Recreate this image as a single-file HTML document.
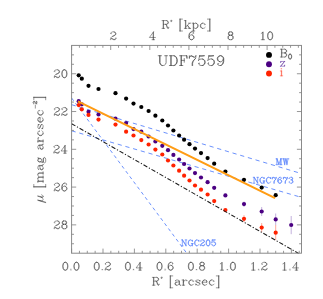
<!DOCTYPE html>
<html><head><meta charset="utf-8"><title>UDF7559</title>
<style>html,body{margin:0;padding:0;background:#fff;width:323px;height:299px;overflow:hidden;font-family:"Liberation Serif",serif}</style></head>
<body>
<svg width="323" height="299" viewBox="0 0 323 299" style="position:absolute;left:0;top:0" font-family="Liberation Serif, serif">
<defs><filter id="soft" x="0" y="0" width="323" height="299" filterUnits="userSpaceOnUse"><feGaussianBlur stdDeviation="0.42"/></filter></defs>
<rect width="323" height="299" fill="#fff"/>
<g filter="url(#soft)">
<rect width="323" height="299" fill="#fff"/>
<line x1="71.60" y1="98.00" x2="186.75" y2="253.20" stroke="#5a84fc" stroke-width="0.9" stroke-dasharray="3.4 3.1"/>
<line x1="71.60" y1="104.70" x2="301.50" y2="173.60" stroke="#5a84fc" stroke-width="0.9" stroke-dasharray="4.2 3.8"/>
<line x1="71.60" y1="130.80" x2="301.50" y2="197.40" stroke="#5a84fc" stroke-width="0.9" stroke-dasharray="4.2 3.8"/>
<line x1="261.70" y1="207.00" x2="261.70" y2="216.00" stroke="#c2b0dc" stroke-width="1"/>
<line x1="275.70" y1="213.50" x2="275.70" y2="225.20" stroke="#c2b0dc" stroke-width="1"/>
<line x1="291.20" y1="216.00" x2="291.20" y2="234.20" stroke="#c2b0dc" stroke-width="1"/>
<line x1="244.00" y1="201.50" x2="244.00" y2="206.70" stroke="#c2b0dc" stroke-width="1"/>
<line x1="244.00" y1="215.20" x2="244.00" y2="222.20" stroke="#ffab9c" stroke-width="1"/>
<line x1="261.70" y1="223.00" x2="261.70" y2="232.20" stroke="#ffab9c" stroke-width="1"/>
<line x1="275.70" y1="225.00" x2="275.70" y2="240.20" stroke="#ffab9c" stroke-width="1"/>
<circle cx="78.7" cy="75.3" r="2.1" fill="#000"/>
<circle cx="81.8" cy="78.7" r="2.1" fill="#000"/>
<circle cx="88.5" cy="85.8" r="2.1" fill="#000"/>
<circle cx="98.5" cy="89" r="2.1" fill="#000"/>
<circle cx="115.5" cy="93.2" r="2.1" fill="#000"/>
<circle cx="126.1" cy="98.6" r="2.1" fill="#000"/>
<circle cx="133.5" cy="103.6" r="2.1" fill="#000"/>
<circle cx="141.3" cy="107" r="2.1" fill="#000"/>
<circle cx="148.6" cy="111" r="2.1" fill="#000"/>
<circle cx="155.4" cy="115.7" r="2.1" fill="#000"/>
<circle cx="162.3" cy="120.5" r="2.1" fill="#000"/>
<circle cx="168" cy="125.5" r="2.1" fill="#000"/>
<circle cx="173.4" cy="130.5" r="2.1" fill="#000"/>
<circle cx="179.1" cy="135.5" r="2.1" fill="#000"/>
<circle cx="184.1" cy="139.7" r="2.1" fill="#000"/>
<circle cx="189.5" cy="144.2" r="2.1" fill="#000"/>
<circle cx="195" cy="148.6" r="2.1" fill="#000"/>
<circle cx="201" cy="153.1" r="2.1" fill="#000"/>
<circle cx="207.6" cy="158.1" r="2.1" fill="#000"/>
<circle cx="214.2" cy="163.7" r="2.1" fill="#000"/>
<circle cx="225.4" cy="171.5" r="2.1" fill="#000"/>
<circle cx="244.0" cy="179.8" r="2.1" fill="#000"/>
<circle cx="261.7" cy="187.6" r="2.1" fill="#000"/>
<circle cx="275.7" cy="195.2" r="2.1" fill="#000"/>
<circle cx="78.7" cy="101.2" r="2.1" fill="#4b0082"/>
<circle cx="81.8" cy="104.3" r="2.1" fill="#4b0082"/>
<circle cx="88.5" cy="111.8" r="2.1" fill="#4b0082"/>
<circle cx="98.5" cy="114.5" r="2.1" fill="#4b0082"/>
<circle cx="115.5" cy="118.7" r="2.1" fill="#4b0082"/>
<circle cx="126.1" cy="123.1" r="2.1" fill="#4b0082"/>
<circle cx="133.5" cy="129.1" r="2.1" fill="#4b0082"/>
<circle cx="141.3" cy="131.7" r="2.1" fill="#4b0082"/>
<circle cx="148.6" cy="136.5" r="2.1" fill="#4b0082"/>
<circle cx="155.4" cy="141.5" r="2.1" fill="#4b0082"/>
<circle cx="162.3" cy="145.8" r="2.1" fill="#4b0082"/>
<circle cx="168" cy="150.2" r="2.1" fill="#4b0082"/>
<circle cx="173.4" cy="154.9" r="2.1" fill="#4b0082"/>
<circle cx="179.1" cy="159.5" r="2.1" fill="#4b0082"/>
<circle cx="184.1" cy="164" r="2.1" fill="#4b0082"/>
<circle cx="189.5" cy="168.5" r="2.1" fill="#4b0082"/>
<circle cx="195" cy="173.1" r="2.1" fill="#4b0082"/>
<circle cx="201" cy="177.5" r="2.1" fill="#4b0082"/>
<circle cx="207.6" cy="182.2" r="2.1" fill="#4b0082"/>
<circle cx="214.2" cy="187.8" r="2.1" fill="#4b0082"/>
<circle cx="225.4" cy="195.4" r="2.1" fill="#4b0082"/>
<circle cx="244.0" cy="204.1" r="2.1" fill="#4b0082"/>
<circle cx="261.7" cy="211.5" r="2.1" fill="#4b0082"/>
<circle cx="275.7" cy="219.4" r="2.1" fill="#4b0082"/>
<circle cx="291.2" cy="225.0" r="2.1" fill="#4b0082"/>
<circle cx="78.7" cy="105.1" r="2.1" fill="#ff2200"/>
<circle cx="81.8" cy="109.3" r="2.1" fill="#ff2200"/>
<circle cx="88.5" cy="114.9" r="2.1" fill="#ff2200"/>
<circle cx="98.5" cy="119.6" r="2.1" fill="#ff2200"/>
<circle cx="115.5" cy="124.6" r="2.1" fill="#ff2200"/>
<circle cx="126.1" cy="131.7" r="2.1" fill="#ff2200"/>
<circle cx="133.5" cy="135.5" r="2.1" fill="#ff2200"/>
<circle cx="141.3" cy="140.1" r="2.1" fill="#ff2200"/>
<circle cx="148.6" cy="144.5" r="2.1" fill="#ff2200"/>
<circle cx="155.4" cy="149.6" r="2.1" fill="#ff2200"/>
<circle cx="162.3" cy="154.5" r="2.1" fill="#ff2200"/>
<circle cx="168" cy="160.5" r="2.1" fill="#ff2200"/>
<circle cx="173.4" cy="165.5" r="2.1" fill="#ff2200"/>
<circle cx="179.1" cy="170.7" r="2.1" fill="#ff2200"/>
<circle cx="184.1" cy="175.7" r="2.1" fill="#ff2200"/>
<circle cx="189.5" cy="180.5" r="2.1" fill="#ff2200"/>
<circle cx="195" cy="185.5" r="2.1" fill="#ff2200"/>
<circle cx="201" cy="189.7" r="2.1" fill="#ff2200"/>
<circle cx="207.6" cy="194.5" r="2.1" fill="#ff2200"/>
<circle cx="214.2" cy="201.1" r="2.1" fill="#ff2200"/>
<circle cx="225.4" cy="210.1" r="2.1" fill="#ff2200"/>
<circle cx="244.0" cy="218.8" r="2.1" fill="#ff2200"/>
<circle cx="261.7" cy="227.6" r="2.1" fill="#ff2200"/>
<circle cx="275.7" cy="232.7" r="2.1" fill="#ff2200"/>
<line x1="71.60" y1="123.70" x2="298.60" y2="253.40" stroke="#1a1a1a" stroke-width="1.05" stroke-dasharray="4.4 1.8 1.2 1.8"/>
<line x1="78.00" y1="101.40" x2="275.10" y2="198.10" stroke="#ff9c12" stroke-width="2.1"/>
<rect x="71.6" y="45.4" width="229.90" height="207.80" fill="none" stroke="#858585" stroke-width="0.95"/>
<path d="M71.60 253.2v-4.6 M79.45 253.2v-2.4 M87.30 253.2v-2.4 M95.15 253.2v-2.4 M103.00 253.2v-4.6 M110.85 253.2v-2.4 M118.70 253.2v-2.4 M126.55 253.2v-2.4 M134.40 253.2v-4.6 M142.25 253.2v-2.4 M150.10 253.2v-2.4 M157.95 253.2v-2.4 M165.80 253.2v-4.6 M173.65 253.2v-2.4 M181.50 253.2v-2.4 M189.35 253.2v-2.4 M197.20 253.2v-4.6 M205.05 253.2v-2.4 M212.90 253.2v-2.4 M220.75 253.2v-2.4 M228.60 253.2v-4.6 M236.45 253.2v-2.4 M244.30 253.2v-2.4 M252.15 253.2v-2.4 M260.00 253.2v-4.6 M267.85 253.2v-2.4 M275.70 253.2v-2.4 M283.55 253.2v-2.4 M291.40 253.2v-4.6 M299.25 253.2v-2.4 M71.60 45.4v4.6 M79.42 45.4v2.4 M87.24 45.4v2.4 M95.06 45.4v2.4 M102.88 45.4v2.4 M110.70 45.4v4.6 M118.52 45.4v2.4 M126.34 45.4v2.4 M134.16 45.4v2.4 M141.98 45.4v2.4 M149.80 45.4v4.6 M157.62 45.4v2.4 M165.44 45.4v2.4 M173.26 45.4v2.4 M181.08 45.4v2.4 M188.90 45.4v4.6 M196.72 45.4v2.4 M204.54 45.4v2.4 M212.36 45.4v2.4 M220.18 45.4v2.4 M228.00 45.4v4.6 M235.82 45.4v2.4 M243.64 45.4v2.4 M251.46 45.4v2.4 M259.28 45.4v2.4 M267.10 45.4v4.6 M274.92 45.4v2.4 M282.74 45.4v2.4 M290.56 45.4v2.4 M298.38 45.4v2.4 M71.6 54.85h2.4 M301.5 54.85h-2.4 M71.6 64.29h2.4 M301.5 64.29h-2.4 M71.6 73.74h4.6 M301.5 73.74h-4.6 M71.6 83.18h2.4 M301.5 83.18h-2.4 M71.6 92.63h2.4 M301.5 92.63h-2.4 M71.6 102.07h2.4 M301.5 102.07h-2.4 M71.6 111.52h4.6 M301.5 111.52h-4.6 M71.6 120.96h2.4 M301.5 120.96h-2.4 M71.6 130.41h2.4 M301.5 130.41h-2.4 M71.6 139.85h2.4 M301.5 139.85h-2.4 M71.6 149.30h4.6 M301.5 149.30h-4.6 M71.6 158.75h2.4 M301.5 158.75h-2.4 M71.6 168.19h2.4 M301.5 168.19h-2.4 M71.6 177.64h2.4 M301.5 177.64h-2.4 M71.6 187.08h4.6 M301.5 187.08h-4.6 M71.6 196.53h2.4 M301.5 196.53h-2.4 M71.6 205.97h2.4 M301.5 205.97h-2.4 M71.6 215.42h2.4 M301.5 215.42h-2.4 M71.6 224.86h4.6 M301.5 224.86h-4.6 M71.6 234.31h2.4 M301.5 234.31h-2.4 M71.6 243.75h2.4 M301.5 243.75h-2.4" stroke="#858585" stroke-width="0.85" fill="none"/>
<path d="M64.95 262.34 L63.83 262.71 L63.09 263.83 L62.72 265.69 L62.72 266.80 L63.09 268.66 L63.83 269.78 L64.95 270.15 L65.69 270.15 L66.81 269.78 L67.55 268.66 L67.92 266.80 L67.92 265.69 L67.55 263.83 L66.81 262.71 L65.69 262.34 L64.95 262.34 M64.95 262.34 L64.20 262.71 L63.83 263.08 L63.46 263.83 L63.09 265.69 L63.09 266.80 L63.46 268.66 L63.83 269.41 L64.20 269.78 L64.95 270.15 M65.69 270.15 L66.44 269.78 L66.81 269.41 L67.18 268.66 L67.55 266.80 L67.55 265.69 L67.18 263.83 L66.81 263.08 L66.44 262.71 L65.69 262.34 M70.90 269.41 L70.53 269.78 L70.90 270.15 L71.27 269.78 L70.90 269.41 M76.11 262.34 L74.99 262.71 L74.25 263.83 L73.88 265.69 L73.88 266.80 L74.25 268.66 L74.99 269.78 L76.11 270.15 L76.85 270.15 L77.97 269.78 L78.71 268.66 L79.08 266.80 L79.08 265.69 L78.71 263.83 L77.97 262.71 L76.85 262.34 L76.11 262.34 M76.11 262.34 L75.36 262.71 L74.99 263.08 L74.62 263.83 L74.25 265.69 L74.25 266.80 L74.62 268.66 L74.99 269.41 L75.36 269.78 L76.11 270.15 M76.85 270.15 L77.60 269.78 L77.97 269.41 L78.34 268.66 L78.71 266.80 L78.71 265.69 L78.34 263.83 L77.97 263.08 L77.60 262.71 L76.85 262.34" fill="none" stroke="#3a3a3a" stroke-width="0.52" stroke-linecap="round" stroke-linejoin="round"/>
<path d="M96.35 262.34 L95.23 262.71 L94.49 263.83 L94.12 265.69 L94.12 266.80 L94.49 268.66 L95.23 269.78 L96.35 270.15 L97.09 270.15 L98.21 269.78 L98.95 268.66 L99.32 266.80 L99.32 265.69 L98.95 263.83 L98.21 262.71 L97.09 262.34 L96.35 262.34 M96.35 262.34 L95.60 262.71 L95.23 263.08 L94.86 263.83 L94.49 265.69 L94.49 266.80 L94.86 268.66 L95.23 269.41 L95.60 269.78 L96.35 270.15 M97.09 270.15 L97.84 269.78 L98.21 269.41 L98.58 268.66 L98.95 266.80 L98.95 265.69 L98.58 263.83 L98.21 263.08 L97.84 262.71 L97.09 262.34 M102.30 269.41 L101.93 269.78 L102.30 270.15 L102.67 269.78 L102.30 269.41 M105.65 263.83 L106.02 264.20 L105.65 264.57 L105.28 264.20 L105.28 263.83 L105.65 263.08 L106.02 262.71 L107.14 262.34 L108.62 262.34 L109.74 262.71 L110.11 263.08 L110.48 263.83 L110.48 264.57 L110.11 265.31 L109.00 266.06 L107.14 266.80 L106.39 267.17 L105.65 267.92 L105.28 269.03 L105.28 270.15 M108.62 262.34 L109.37 262.71 L109.74 263.08 L110.11 263.83 L110.11 264.57 L109.74 265.31 L108.62 266.06 L107.14 266.80 M105.28 269.41 L105.65 269.03 L106.39 269.03 L108.25 269.78 L109.37 269.78 L110.11 269.41 L110.48 269.03 M106.39 269.03 L108.25 270.15 L109.74 270.15 L110.11 269.78 L110.48 269.03 L110.48 268.29" fill="none" stroke="#3a3a3a" stroke-width="0.52" stroke-linecap="round" stroke-linejoin="round"/>
<path d="M127.56 262.34 L126.45 262.71 L125.70 263.83 L125.33 265.69 L125.33 266.80 L125.70 268.66 L126.45 269.78 L127.56 270.15 L128.31 270.15 L129.42 269.78 L130.17 268.66 L130.54 266.80 L130.54 265.69 L130.17 263.83 L129.42 262.71 L128.31 262.34 L127.56 262.34 M127.56 262.34 L126.82 262.71 L126.45 263.08 L126.07 263.83 L125.70 265.69 L125.70 266.80 L126.07 268.66 L126.45 269.41 L126.82 269.78 L127.56 270.15 M128.31 270.15 L129.05 269.78 L129.42 269.41 L129.79 268.66 L130.17 266.80 L130.17 265.69 L129.79 263.83 L129.42 263.08 L129.05 262.71 L128.31 262.34 M133.51 269.41 L133.14 269.78 L133.51 270.15 L133.89 269.78 L133.51 269.41 M139.84 263.08 L139.84 270.15 M140.21 262.34 L140.21 270.15 M140.21 262.34 L136.12 267.92 L142.07 267.92 M138.72 270.15 L141.33 270.15" fill="none" stroke="#3a3a3a" stroke-width="0.52" stroke-linecap="round" stroke-linejoin="round"/>
<path d="M159.15 262.34 L158.03 262.71 L157.29 263.83 L156.92 265.69 L156.92 266.80 L157.29 268.66 L158.03 269.78 L159.15 270.15 L159.89 270.15 L161.01 269.78 L161.75 268.66 L162.12 266.80 L162.12 265.69 L161.75 263.83 L161.01 262.71 L159.89 262.34 L159.15 262.34 M159.15 262.34 L158.40 262.71 L158.03 263.08 L157.66 263.83 L157.29 265.69 L157.29 266.80 L157.66 268.66 L158.03 269.41 L158.40 269.78 L159.15 270.15 M159.89 270.15 L160.64 269.78 L161.01 269.41 L161.38 268.66 L161.75 266.80 L161.75 265.69 L161.38 263.83 L161.01 263.08 L160.64 262.71 L159.89 262.34 M165.10 269.41 L164.73 269.78 L165.10 270.15 L165.47 269.78 L165.10 269.41 M172.54 263.45 L172.17 263.83 L172.54 264.20 L172.91 263.83 L172.91 263.45 L172.54 262.71 L171.80 262.34 L170.68 262.34 L169.56 262.71 L168.82 263.45 L168.45 264.20 L168.08 265.69 L168.08 267.92 L168.45 269.03 L169.19 269.78 L170.31 270.15 L171.05 270.15 L172.17 269.78 L172.91 269.03 L173.28 267.92 L173.28 267.55 L172.91 266.43 L172.17 265.69 L171.05 265.31 L170.68 265.31 L169.56 265.69 L168.82 266.43 L168.45 267.55 M170.68 262.34 L169.94 262.71 L169.19 263.45 L168.82 264.20 L168.45 265.69 L168.45 267.92 L168.82 269.03 L169.56 269.78 L170.31 270.15 M171.05 270.15 L171.80 269.78 L172.54 269.03 L172.91 267.92 L172.91 267.55 L172.54 266.43 L171.80 265.69 L171.05 265.31" fill="none" stroke="#3a3a3a" stroke-width="0.52" stroke-linecap="round" stroke-linejoin="round"/>
<path d="M190.55 262.34 L189.43 262.71 L188.69 263.83 L188.32 265.69 L188.32 266.80 L188.69 268.66 L189.43 269.78 L190.55 270.15 L191.29 270.15 L192.41 269.78 L193.15 268.66 L193.52 266.80 L193.52 265.69 L193.15 263.83 L192.41 262.71 L191.29 262.34 L190.55 262.34 M190.55 262.34 L189.80 262.71 L189.43 263.08 L189.06 263.83 L188.69 265.69 L188.69 266.80 L189.06 268.66 L189.43 269.41 L189.80 269.78 L190.55 270.15 M191.29 270.15 L192.04 269.78 L192.41 269.41 L192.78 268.66 L193.15 266.80 L193.15 265.69 L192.78 263.83 L192.41 263.08 L192.04 262.71 L191.29 262.34 M196.50 269.41 L196.13 269.78 L196.50 270.15 L196.87 269.78 L196.50 269.41 M201.34 262.34 L200.22 262.71 L199.85 263.45 L199.85 264.57 L200.22 265.31 L201.34 265.69 L202.82 265.69 L203.94 265.31 L204.31 264.57 L204.31 263.45 L203.94 262.71 L202.82 262.34 L201.34 262.34 M201.34 262.34 L200.59 262.71 L200.22 263.45 L200.22 264.57 L200.59 265.31 L201.34 265.69 M202.82 265.69 L203.57 265.31 L203.94 264.57 L203.94 263.45 L203.57 262.71 L202.82 262.34 M201.34 265.69 L200.22 266.06 L199.85 266.43 L199.48 267.17 L199.48 268.66 L199.85 269.41 L200.22 269.78 L201.34 270.15 L202.82 270.15 L203.94 269.78 L204.31 269.41 L204.68 268.66 L204.68 267.17 L204.31 266.43 L203.94 266.06 L202.82 265.69 M201.34 265.69 L200.59 266.06 L200.22 266.43 L199.85 267.17 L199.85 268.66 L200.22 269.41 L200.59 269.78 L201.34 270.15 M202.82 270.15 L203.57 269.78 L203.94 269.41 L204.31 268.66 L204.31 267.17 L203.94 266.43 L203.57 266.06 L202.82 265.69" fill="none" stroke="#3a3a3a" stroke-width="0.52" stroke-linecap="round" stroke-linejoin="round"/>
<path d="M220.27 263.83 L221.02 263.45 L222.13 262.34 L222.13 270.15 M221.76 262.71 L221.76 270.15 M220.27 270.15 L223.62 270.15 M227.34 269.41 L226.97 269.78 L227.34 270.15 L227.71 269.78 L227.34 269.41 M232.55 262.34 L231.43 262.71 L230.69 263.83 L230.32 265.69 L230.32 266.80 L230.69 268.66 L231.43 269.78 L232.55 270.15 L233.29 270.15 L234.41 269.78 L235.15 268.66 L235.53 266.80 L235.53 265.69 L235.15 263.83 L234.41 262.71 L233.29 262.34 L232.55 262.34 M232.55 262.34 L231.81 262.71 L231.43 263.08 L231.06 263.83 L230.69 265.69 L230.69 266.80 L231.06 268.66 L231.43 269.41 L231.81 269.78 L232.55 270.15 M233.29 270.15 L234.04 269.78 L234.41 269.41 L234.78 268.66 L235.15 266.80 L235.15 265.69 L234.78 263.83 L234.41 263.08 L234.04 262.71 L233.29 262.34" fill="none" stroke="#3a3a3a" stroke-width="0.52" stroke-linecap="round" stroke-linejoin="round"/>
<path d="M251.67 263.83 L252.42 263.45 L253.53 262.34 L253.53 270.15 M253.16 262.71 L253.16 270.15 M251.67 270.15 L255.02 270.15 M258.74 269.41 L258.37 269.78 L258.74 270.15 L259.11 269.78 L258.74 269.41 M262.09 263.83 L262.46 264.20 L262.09 264.57 L261.72 264.20 L261.72 263.83 L262.09 263.08 L262.46 262.71 L263.58 262.34 L265.07 262.34 L266.18 262.71 L266.55 263.08 L266.93 263.83 L266.93 264.57 L266.55 265.31 L265.44 266.06 L263.58 266.80 L262.83 267.17 L262.09 267.92 L261.72 269.03 L261.72 270.15 M265.07 262.34 L265.81 262.71 L266.18 263.08 L266.55 263.83 L266.55 264.57 L266.18 265.31 L265.07 266.06 L263.58 266.80 M261.72 269.41 L262.09 269.03 L262.83 269.03 L264.69 269.78 L265.81 269.78 L266.55 269.41 L266.93 269.03 M262.83 269.03 L264.69 270.15 L266.18 270.15 L266.55 269.78 L266.93 269.03 L266.93 268.29" fill="none" stroke="#3a3a3a" stroke-width="0.52" stroke-linecap="round" stroke-linejoin="round"/>
<path d="M282.89 263.83 L283.63 263.45 L284.75 262.34 L284.75 270.15 M284.38 262.71 L284.38 270.15 M282.89 270.15 L286.24 270.15 M289.96 269.41 L289.58 269.78 L289.96 270.15 L290.33 269.78 L289.96 269.41 M296.28 263.08 L296.28 270.15 M296.65 262.34 L296.65 270.15 M296.65 262.34 L292.56 267.92 L298.51 267.92 M295.16 270.15 L297.77 270.15" fill="none" stroke="#3a3a3a" stroke-width="0.52" stroke-linecap="round" stroke-linejoin="round"/>
<path d="M111.07 33.38 L111.44 33.75 L111.07 34.12 L110.70 33.75 L110.70 33.38 L111.07 32.63 L111.44 32.26 L112.56 31.89 L114.04 31.89 L115.16 32.26 L115.53 32.63 L115.90 33.38 L115.90 34.12 L115.53 34.86 L114.42 35.61 L112.56 36.35 L111.81 36.72 L111.07 37.47 L110.70 38.58 L110.70 39.70 M114.04 31.89 L114.79 32.26 L115.16 32.63 L115.53 33.38 L115.53 34.12 L115.16 34.86 L114.04 35.61 L112.56 36.35 M110.70 38.96 L111.07 38.58 L111.81 38.58 L113.67 39.33 L114.79 39.33 L115.53 38.96 L115.90 38.58 M111.81 38.58 L113.67 39.70 L115.16 39.70 L115.53 39.33 L115.90 38.58 L115.90 37.84" fill="none" stroke="#3a3a3a" stroke-width="0.52" stroke-linecap="round" stroke-linejoin="round"/>
<path d="M153.14 32.63 L153.14 39.70 M153.52 31.89 L153.52 39.70 M153.52 31.89 L149.42 37.47 L155.38 37.47 M152.03 39.70 L154.63 39.70" fill="none" stroke="#3a3a3a" stroke-width="0.52" stroke-linecap="round" stroke-linejoin="round"/>
<path d="M193.36 33.00 L192.99 33.38 L193.36 33.75 L193.73 33.38 L193.73 33.00 L193.36 32.26 L192.62 31.89 L191.50 31.89 L190.38 32.26 L189.64 33.00 L189.27 33.75 L188.90 35.24 L188.90 37.47 L189.27 38.58 L190.01 39.33 L191.13 39.70 L191.87 39.70 L192.99 39.33 L193.73 38.58 L194.10 37.47 L194.10 37.10 L193.73 35.98 L192.99 35.24 L191.87 34.86 L191.50 34.86 L190.38 35.24 L189.64 35.98 L189.27 37.10 M191.50 31.89 L190.76 32.26 L190.01 33.00 L189.64 33.75 L189.27 35.24 L189.27 37.47 L189.64 38.58 L190.38 39.33 L191.13 39.70 M191.87 39.70 L192.62 39.33 L193.36 38.58 L193.73 37.47 L193.73 37.10 L193.36 35.98 L192.62 35.24 L191.87 34.86" fill="none" stroke="#3a3a3a" stroke-width="0.52" stroke-linecap="round" stroke-linejoin="round"/>
<path d="M229.86 31.89 L228.74 32.26 L228.37 33.00 L228.37 34.12 L228.74 34.86 L229.86 35.24 L231.34 35.24 L232.46 34.86 L232.83 34.12 L232.83 33.00 L232.46 32.26 L231.34 31.89 L229.86 31.89 M229.86 31.89 L229.11 32.26 L228.74 33.00 L228.74 34.12 L229.11 34.86 L229.86 35.24 M231.34 35.24 L232.09 34.86 L232.46 34.12 L232.46 33.00 L232.09 32.26 L231.34 31.89 M229.86 35.24 L228.74 35.61 L228.37 35.98 L228.00 36.72 L228.00 38.21 L228.37 38.96 L228.74 39.33 L229.86 39.70 L231.34 39.70 L232.46 39.33 L232.83 38.96 L233.20 38.21 L233.20 36.72 L232.83 35.98 L232.46 35.61 L231.34 35.24 M229.86 35.24 L229.11 35.61 L228.74 35.98 L228.37 36.72 L228.37 38.21 L228.74 38.96 L229.11 39.33 L229.86 39.70 M231.34 39.70 L232.09 39.33 L232.46 38.96 L232.83 38.21 L232.83 36.72 L232.46 35.98 L232.09 35.61 L231.34 35.24" fill="none" stroke="#3a3a3a" stroke-width="0.52" stroke-linecap="round" stroke-linejoin="round"/>
<path d="M261.23 33.38 L261.98 33.00 L263.09 31.89 L263.09 39.70 M262.72 32.26 L262.72 39.70 M261.23 39.70 L264.58 39.70 M269.79 31.89 L268.67 32.26 L267.93 33.38 L267.56 35.24 L267.56 36.35 L267.93 38.21 L268.67 39.33 L269.79 39.70 L270.53 39.70 L271.65 39.33 L272.39 38.21 L272.77 36.35 L272.77 35.24 L272.39 33.38 L271.65 32.26 L270.53 31.89 L269.79 31.89 M269.79 31.89 L269.05 32.26 L268.67 32.63 L268.30 33.38 L267.93 35.24 L267.93 36.35 L268.30 38.21 L268.67 38.96 L269.05 39.33 L269.79 39.70 M270.53 39.70 L271.28 39.33 L271.65 38.96 L272.02 38.21 L272.39 36.35 L272.39 35.24 L272.02 33.38 L271.65 32.63 L271.28 32.26 L270.53 31.89" fill="none" stroke="#3a3a3a" stroke-width="0.52" stroke-linecap="round" stroke-linejoin="round"/>
<path d="M54.72 71.31 L55.10 71.68 L54.72 72.06 L54.35 71.68 L54.35 71.31 L54.72 70.57 L55.10 70.20 L56.21 69.82 L57.70 69.82 L58.82 70.20 L59.19 70.57 L59.56 71.31 L59.56 72.06 L59.19 72.80 L58.07 73.54 L56.21 74.29 L55.47 74.66 L54.72 75.40 L54.35 76.52 L54.35 77.64 M57.70 69.82 L58.44 70.20 L58.82 70.57 L59.19 71.31 L59.19 72.06 L58.82 72.80 L57.70 73.54 L56.21 74.29 M54.35 76.89 L54.72 76.52 L55.47 76.52 L57.33 77.26 L58.44 77.26 L59.19 76.89 L59.56 76.52 M55.47 76.52 L57.33 77.64 L58.82 77.64 L59.19 77.26 L59.56 76.52 L59.56 75.78 M64.02 69.82 L62.91 70.20 L62.16 71.31 L61.79 73.17 L61.79 74.29 L62.16 76.15 L62.91 77.26 L64.02 77.64 L64.77 77.64 L65.88 77.26 L66.63 76.15 L67.00 74.29 L67.00 73.17 L66.63 71.31 L65.88 70.20 L64.77 69.82 L64.02 69.82 M64.02 69.82 L63.28 70.20 L62.91 70.57 L62.54 71.31 L62.16 73.17 L62.16 74.29 L62.54 76.15 L62.91 76.89 L63.28 77.26 L64.02 77.64 M64.77 77.64 L65.51 77.26 L65.88 76.89 L66.26 76.15 L66.63 74.29 L66.63 73.17 L66.26 71.31 L65.88 70.57 L65.51 70.20 L64.77 69.82" fill="none" stroke="#3a3a3a" stroke-width="0.52" stroke-linecap="round" stroke-linejoin="round"/>
<path d="M54.72 109.09 L55.10 109.47 L54.72 109.84 L54.35 109.47 L54.35 109.09 L54.72 108.35 L55.10 107.98 L56.21 107.61 L57.70 107.61 L58.82 107.98 L59.19 108.35 L59.56 109.09 L59.56 109.84 L59.19 110.58 L58.07 111.33 L56.21 112.07 L55.47 112.44 L54.72 113.19 L54.35 114.30 L54.35 115.42 M57.70 107.61 L58.44 107.98 L58.82 108.35 L59.19 109.09 L59.19 109.84 L58.82 110.58 L57.70 111.33 L56.21 112.07 M54.35 114.67 L54.72 114.30 L55.47 114.30 L57.33 115.05 L58.44 115.05 L59.19 114.67 L59.56 114.30 M55.47 114.30 L57.33 115.42 L58.82 115.42 L59.19 115.05 L59.56 114.30 L59.56 113.56 M62.16 109.09 L62.54 109.47 L62.16 109.84 L61.79 109.47 L61.79 109.09 L62.16 108.35 L62.54 107.98 L63.65 107.61 L65.14 107.61 L66.26 107.98 L66.63 108.35 L67.00 109.09 L67.00 109.84 L66.63 110.58 L65.51 111.33 L63.65 112.07 L62.91 112.44 L62.16 113.19 L61.79 114.30 L61.79 115.42 M65.14 107.61 L65.88 107.98 L66.26 108.35 L66.63 109.09 L66.63 109.84 L66.26 110.58 L65.14 111.33 L63.65 112.07 M61.79 114.67 L62.16 114.30 L62.91 114.30 L64.77 115.05 L65.88 115.05 L66.63 114.67 L67.00 114.30 M62.91 114.30 L64.77 115.42 L66.26 115.42 L66.63 115.05 L67.00 114.30 L67.00 113.56" fill="none" stroke="#3a3a3a" stroke-width="0.52" stroke-linecap="round" stroke-linejoin="round"/>
<path d="M54.35 146.88 L54.72 147.25 L54.35 147.62 L53.98 147.25 L53.98 146.88 L54.35 146.13 L54.72 145.76 L55.84 145.39 L57.33 145.39 L58.44 145.76 L58.82 146.13 L59.19 146.88 L59.19 147.62 L58.82 148.36 L57.70 149.11 L55.84 149.85 L55.10 150.22 L54.35 150.97 L53.98 152.08 L53.98 153.20 M57.33 145.39 L58.07 145.76 L58.44 146.13 L58.82 146.88 L58.82 147.62 L58.44 148.36 L57.33 149.11 L55.84 149.85 M53.98 152.46 L54.35 152.08 L55.10 152.08 L56.96 152.83 L58.07 152.83 L58.82 152.46 L59.19 152.08 M55.10 152.08 L56.96 153.20 L58.44 153.20 L58.82 152.83 L59.19 152.08 L59.19 151.34 M64.77 146.13 L64.77 153.20 M65.14 145.39 L65.14 153.20 M65.14 145.39 L61.05 150.97 L67.00 150.97 M63.65 153.20 L66.26 153.20" fill="none" stroke="#3a3a3a" stroke-width="0.52" stroke-linecap="round" stroke-linejoin="round"/>
<path d="M54.72 184.66 L55.10 185.03 L54.72 185.40 L54.35 185.03 L54.35 184.66 L54.72 183.91 L55.10 183.54 L56.21 183.17 L57.70 183.17 L58.82 183.54 L59.19 183.91 L59.56 184.66 L59.56 185.40 L59.19 186.15 L58.07 186.89 L56.21 187.63 L55.47 188.01 L54.72 188.75 L54.35 189.87 L54.35 190.98 M57.70 183.17 L58.44 183.54 L58.82 183.91 L59.19 184.66 L59.19 185.40 L58.82 186.15 L57.70 186.89 L56.21 187.63 M54.35 190.24 L54.72 189.87 L55.47 189.87 L57.33 190.61 L58.44 190.61 L59.19 190.24 L59.56 189.87 M55.47 189.87 L57.33 190.98 L58.82 190.98 L59.19 190.61 L59.56 189.87 L59.56 189.12 M66.26 184.29 L65.88 184.66 L66.26 185.03 L66.63 184.66 L66.63 184.29 L66.26 183.54 L65.51 183.17 L64.40 183.17 L63.28 183.54 L62.54 184.29 L62.16 185.03 L61.79 186.52 L61.79 188.75 L62.16 189.87 L62.91 190.61 L64.02 190.98 L64.77 190.98 L65.88 190.61 L66.63 189.87 L67.00 188.75 L67.00 188.38 L66.63 187.26 L65.88 186.52 L64.77 186.15 L64.40 186.15 L63.28 186.52 L62.54 187.26 L62.16 188.38 M64.40 183.17 L63.65 183.54 L62.91 184.29 L62.54 185.03 L62.16 186.52 L62.16 188.75 L62.54 189.87 L63.28 190.61 L64.02 190.98 M64.77 190.98 L65.51 190.61 L66.26 189.87 L66.63 188.75 L66.63 188.38 L66.26 187.26 L65.51 186.52 L64.77 186.15" fill="none" stroke="#3a3a3a" stroke-width="0.52" stroke-linecap="round" stroke-linejoin="round"/>
<path d="M54.72 222.44 L55.10 222.81 L54.72 223.18 L54.35 222.81 L54.35 222.44 L54.72 221.70 L55.10 221.32 L56.21 220.95 L57.70 220.95 L58.82 221.32 L59.19 221.70 L59.56 222.44 L59.56 223.18 L59.19 223.93 L58.07 224.67 L56.21 225.42 L55.47 225.79 L54.72 226.53 L54.35 227.65 L54.35 228.76 M57.70 220.95 L58.44 221.32 L58.82 221.70 L59.19 222.44 L59.19 223.18 L58.82 223.93 L57.70 224.67 L56.21 225.42 M54.35 228.02 L54.72 227.65 L55.47 227.65 L57.33 228.39 L58.44 228.39 L59.19 228.02 L59.56 227.65 M55.47 227.65 L57.33 228.76 L58.82 228.76 L59.19 228.39 L59.56 227.65 L59.56 226.90 M63.65 220.95 L62.54 221.32 L62.16 222.07 L62.16 223.18 L62.54 223.93 L63.65 224.30 L65.14 224.30 L66.26 223.93 L66.63 223.18 L66.63 222.07 L66.26 221.32 L65.14 220.95 L63.65 220.95 M63.65 220.95 L62.91 221.32 L62.54 222.07 L62.54 223.18 L62.91 223.93 L63.65 224.30 M65.14 224.30 L65.88 223.93 L66.26 223.18 L66.26 222.07 L65.88 221.32 L65.14 220.95 M63.65 224.30 L62.54 224.67 L62.16 225.04 L61.79 225.79 L61.79 227.28 L62.16 228.02 L62.54 228.39 L63.65 228.76 L65.14 228.76 L66.26 228.39 L66.63 228.02 L67.00 227.28 L67.00 225.79 L66.63 225.04 L66.26 224.67 L65.14 224.30 M63.65 224.30 L62.91 224.67 L62.54 225.04 L62.16 225.79 L62.16 227.28 L62.54 228.02 L62.91 228.39 L63.65 228.76 M65.14 228.76 L65.88 228.39 L66.26 228.02 L66.63 227.28 L66.63 225.79 L66.26 225.04 L65.88 224.67 L65.14 224.30" fill="none" stroke="#3a3a3a" stroke-width="0.52" stroke-linecap="round" stroke-linejoin="round"/>
<path d="M153.46 277.39 L153.46 285.20 M153.83 277.39 L153.83 285.20 M152.34 277.39 L156.81 277.39 L157.92 277.76 L158.30 278.13 L158.67 278.88 L158.67 279.62 L158.30 280.36 L157.92 280.74 L156.81 281.11 L153.83 281.11 M156.81 277.39 L157.55 277.76 L157.92 278.13 L158.30 278.88 L158.30 279.62 L157.92 280.36 L157.55 280.74 L156.81 281.11 M152.34 285.20 L154.95 285.20 M155.69 281.11 L156.44 281.48 L156.81 281.85 L157.92 284.46 L158.30 284.83 L158.67 284.83 L159.04 284.46 M156.44 281.48 L156.81 282.22 L157.55 284.83 L157.92 285.20 L158.67 285.20 L159.04 284.46 L159.04 284.08 M161.45 277.15 L162.30 277.15 L161.95 278.40 L161.55 278.40 Z M170.17 275.90 L170.17 287.80 M170.54 275.90 L170.54 287.80 M170.17 275.90 L172.77 275.90 M170.17 287.80 L172.77 287.80 M175.75 280.74 L175.75 281.11 L175.38 281.11 L175.38 280.74 L175.75 280.36 L176.49 279.99 L177.98 279.99 L178.73 280.36 L179.10 280.74 L179.47 281.48 L179.47 284.08 L179.84 284.83 L180.21 285.20 M179.10 280.74 L179.10 284.08 L179.47 284.83 L180.21 285.20 L180.59 285.20 M179.10 281.48 L178.73 281.85 L176.49 282.22 L175.38 282.60 L175.01 283.34 L175.01 284.08 L175.38 284.83 L176.49 285.20 L177.61 285.20 L178.35 284.83 L179.10 284.08 M176.49 282.22 L175.75 282.60 L175.38 283.34 L175.38 284.08 L175.75 284.83 L176.49 285.20 M183.19 279.99 L183.19 285.20 M183.56 279.99 L183.56 285.20 M183.56 282.22 L183.93 281.11 L184.68 280.36 L185.42 279.99 L186.54 279.99 L186.91 280.36 L186.91 280.74 L186.54 281.11 L186.17 280.74 L186.54 280.36 M182.07 279.99 L183.56 279.99 M182.07 285.20 L184.68 285.20 M193.23 281.11 L192.86 281.48 L193.23 281.85 L193.61 281.48 L193.61 281.11 L192.86 280.36 L192.12 279.99 L191.00 279.99 L189.89 280.36 L189.14 281.11 L188.77 282.22 L188.77 282.97 L189.14 284.08 L189.89 284.83 L191.00 285.20 L191.75 285.20 L192.86 284.83 L193.61 284.08 M191.00 279.99 L190.26 280.36 L189.51 281.11 L189.14 282.22 L189.14 282.97 L189.51 284.08 L190.26 284.83 L191.00 285.20 M199.56 280.74 L199.93 279.99 L199.93 281.48 L199.56 280.74 L199.19 280.36 L198.44 279.99 L196.95 279.99 L196.21 280.36 L195.84 280.74 L195.84 281.48 L196.21 281.85 L196.95 282.22 L198.81 282.97 L199.56 283.34 L199.93 283.71 M195.84 281.11 L196.21 281.48 L196.95 281.85 L198.81 282.60 L199.56 282.97 L199.93 283.34 L199.93 284.46 L199.56 284.83 L198.81 285.20 L197.33 285.20 L196.58 284.83 L196.21 284.46 L195.84 283.71 L195.84 285.20 L196.21 284.46 M202.53 282.22 L207.00 282.22 L207.00 281.48 L206.63 280.74 L206.25 280.36 L205.51 279.99 L204.39 279.99 L203.28 280.36 L202.53 281.11 L202.16 282.22 L202.16 282.97 L202.53 284.08 L203.28 284.83 L204.39 285.20 L205.14 285.20 L206.25 284.83 L207.00 284.08 M206.63 282.22 L206.63 281.11 L206.25 280.36 M204.39 279.99 L203.65 280.36 L202.91 281.11 L202.53 282.22 L202.53 282.97 L202.91 284.08 L203.65 284.83 L204.39 285.20 M213.69 281.11 L213.32 281.48 L213.69 281.85 L214.07 281.48 L214.07 281.11 L213.32 280.36 L212.58 279.99 L211.46 279.99 L210.35 280.36 L209.60 281.11 L209.23 282.22 L209.23 282.97 L209.60 284.08 L210.35 284.83 L211.46 285.20 L212.21 285.20 L213.32 284.83 L214.07 284.08 M211.46 279.99 L210.72 280.36 L209.97 281.11 L209.60 282.22 L209.60 282.97 L209.97 284.08 L210.72 284.83 L211.46 285.20 M218.53 275.90 L218.53 287.80 M218.90 275.90 L218.90 287.80 M216.30 275.90 L218.90 275.90 M216.30 287.80 L218.90 287.80" fill="none" stroke="#3a3a3a" stroke-width="0.52" stroke-linecap="round" stroke-linejoin="round" />
<path d="M163.16 20.59 L163.16 28.40 M163.53 20.59 L163.53 28.40 M162.04 20.59 L166.51 20.59 L167.62 20.96 L168.00 21.33 L168.37 22.08 L168.37 22.82 L168.00 23.56 L167.62 23.94 L166.51 24.31 L163.53 24.31 M166.51 20.59 L167.25 20.96 L167.62 21.33 L168.00 22.08 L168.00 22.82 L167.62 23.56 L167.25 23.94 L166.51 24.31 M162.04 28.40 L164.65 28.40 M165.39 24.31 L166.14 24.68 L166.51 25.05 L167.62 27.66 L168.00 28.03 L168.37 28.03 L168.74 27.66 M166.14 24.68 L166.51 25.42 L167.25 28.03 L167.62 28.40 L168.37 28.40 L168.74 27.66 L168.74 27.28 M171.15 20.35 L172.00 20.35 L171.65 21.60 L171.25 21.60 Z M179.87 19.10 L179.87 31.00 M180.24 19.10 L180.24 31.00 M179.87 19.10 L182.47 19.10 M179.87 31.00 L182.47 31.00 M185.45 20.59 L185.45 28.40 M185.82 20.59 L185.82 28.40 M189.54 23.19 L185.82 26.91 M187.68 25.42 L189.91 28.40 M187.31 25.42 L189.54 28.40 M184.33 20.59 L185.82 20.59 M188.43 23.19 L190.66 23.19 M184.33 28.40 L186.94 28.40 M188.43 28.40 L190.66 28.40 M193.26 23.19 L193.26 31.00 M193.63 23.19 L193.63 31.00 M193.63 24.31 L194.38 23.56 L195.12 23.19 L195.87 23.19 L196.98 23.56 L197.73 24.31 L198.10 25.42 L198.10 26.17 L197.73 27.28 L196.98 28.03 L195.87 28.40 L195.12 28.40 L194.38 28.03 L193.63 27.28 M195.87 23.19 L196.61 23.56 L197.35 24.31 L197.73 25.42 L197.73 26.17 L197.35 27.28 L196.61 28.03 L195.87 28.40 M192.15 23.19 L193.63 23.19 M192.15 31.00 L194.75 31.00 M204.79 24.31 L204.42 24.68 L204.79 25.05 L205.17 24.68 L205.17 24.31 L204.42 23.56 L203.68 23.19 L202.56 23.19 L201.45 23.56 L200.70 24.31 L200.33 25.42 L200.33 26.17 L200.70 27.28 L201.45 28.03 L202.56 28.40 L203.31 28.40 L204.42 28.03 L205.17 27.28 M202.56 23.19 L201.82 23.56 L201.07 24.31 L200.70 25.42 L200.70 26.17 L201.07 27.28 L201.82 28.03 L202.56 28.40 M209.63 19.10 L209.63 31.00 M210.00 19.10 L210.00 31.00 M207.40 19.10 L210.00 19.10 M207.40 31.00 L210.00 31.00" fill="none" stroke="#3a3a3a" stroke-width="0.52" stroke-linecap="round" stroke-linejoin="round" />
<path d="M2.60 -5.21 L0.37 2.60 M2.98 -5.21 L0.74 2.60 M2.60 -4.09 L2.23 -1.86 L2.23 -0.74 L2.98 0.00 L3.72 0.00 L4.46 -0.37 L5.21 -1.12 L5.95 -2.23 M6.70 -5.21 L5.58 -1.12 L5.58 -0.37 L5.95 0.00 L7.07 0.00 L7.81 -0.74 L8.18 -1.49 M7.07 -5.21 L5.95 -1.12 L5.95 -0.37 L6.32 0.00 M16.00 -9.30 L16.00 2.60 M16.37 -9.30 L16.37 2.60 M16.00 -9.30 L18.60 -9.30 M16.00 2.60 L18.60 2.60 M21.58 -5.21 L21.58 0.00 M21.95 -5.21 L21.95 0.00 M21.95 -4.09 L22.69 -4.84 L23.81 -5.21 L24.55 -5.21 L25.67 -4.84 L26.04 -4.09 L26.04 0.00 M24.55 -5.21 L25.30 -4.84 L25.67 -4.09 L25.67 0.00 M26.04 -4.09 L26.78 -4.84 L27.90 -5.21 L28.64 -5.21 L29.76 -4.84 L30.13 -4.09 L30.13 0.00 M28.64 -5.21 L29.39 -4.84 L29.76 -4.09 L29.76 0.00 M20.46 -5.21 L21.95 -5.21 M20.46 0.00 L23.06 0.00 M24.55 0.00 L27.16 0.00 M28.64 0.00 L31.25 0.00 M33.85 -4.46 L33.85 -4.09 L33.48 -4.09 L33.48 -4.46 L33.85 -4.84 L34.60 -5.21 L36.08 -5.21 L36.83 -4.84 L37.20 -4.46 L37.57 -3.72 L37.57 -1.12 L37.94 -0.37 L38.32 0.00 M37.20 -4.46 L37.20 -1.12 L37.57 -0.37 L38.32 0.00 L38.69 0.00 M37.20 -3.72 L36.83 -3.35 L34.60 -2.98 L33.48 -2.60 L33.11 -1.86 L33.11 -1.12 L33.48 -0.37 L34.60 0.00 L35.71 0.00 L36.46 -0.37 L37.20 -1.12 M34.60 -2.98 L33.85 -2.60 L33.48 -1.86 L33.48 -1.12 L33.85 -0.37 L34.60 0.00 M42.41 -5.21 L41.66 -4.84 L41.29 -4.46 L40.92 -3.72 L40.92 -2.98 L41.29 -2.23 L41.66 -1.86 L42.41 -1.49 L43.15 -1.49 L43.90 -1.86 L44.27 -2.23 L44.64 -2.98 L44.64 -3.72 L44.27 -4.46 L43.90 -4.84 L43.15 -5.21 L42.41 -5.21 M41.66 -4.84 L41.29 -4.09 L41.29 -2.60 L41.66 -1.86 M43.90 -1.86 L44.27 -2.60 L44.27 -4.09 L43.90 -4.84 M44.27 -4.46 L44.64 -4.84 L45.38 -5.21 L45.38 -4.84 L44.64 -4.84 M41.29 -2.23 L40.92 -1.86 L40.55 -1.12 L40.55 -0.74 L40.92 0.00 L42.04 0.37 L43.90 0.37 L45.01 0.74 L45.38 1.12 M40.55 -0.74 L40.92 -0.37 L42.04 0.00 L43.90 0.00 L45.01 0.37 L45.38 1.12 L45.38 1.49 L45.01 2.23 L43.90 2.60 L41.66 2.60 L40.55 2.23 L40.18 1.49 L40.18 1.12 L40.55 0.37 L41.66 0.00 M54.31 -4.46 L54.31 -4.09 L53.94 -4.09 L53.94 -4.46 L54.31 -4.84 L55.06 -5.21 L56.54 -5.21 L57.29 -4.84 L57.66 -4.46 L58.03 -3.72 L58.03 -1.12 L58.40 -0.37 L58.78 0.00 M57.66 -4.46 L57.66 -1.12 L58.03 -0.37 L58.78 0.00 L59.15 0.00 M57.66 -3.72 L57.29 -3.35 L55.06 -2.98 L53.94 -2.60 L53.57 -1.86 L53.57 -1.12 L53.94 -0.37 L55.06 0.00 L56.17 0.00 L56.92 -0.37 L57.66 -1.12 M55.06 -2.98 L54.31 -2.60 L53.94 -1.86 L53.94 -1.12 L54.31 -0.37 L55.06 0.00 M61.75 -5.21 L61.75 0.00 M62.12 -5.21 L62.12 0.00 M62.12 -2.98 L62.50 -4.09 L63.24 -4.84 L63.98 -5.21 L65.10 -5.21 L65.47 -4.84 L65.47 -4.46 L65.10 -4.09 L64.73 -4.46 L65.10 -4.84 M60.64 -5.21 L62.12 -5.21 M60.64 0.00 L63.24 0.00 M71.80 -4.09 L71.42 -3.72 L71.80 -3.35 L72.17 -3.72 L72.17 -4.09 L71.42 -4.84 L70.68 -5.21 L69.56 -5.21 L68.45 -4.84 L67.70 -4.09 L67.33 -2.98 L67.33 -2.23 L67.70 -1.12 L68.45 -0.37 L69.56 0.00 L70.31 0.00 L71.42 -0.37 L72.17 -1.12 M69.56 -5.21 L68.82 -4.84 L68.08 -4.09 L67.70 -2.98 L67.70 -2.23 L68.08 -1.12 L68.82 -0.37 L69.56 0.00 M78.12 -4.46 L78.49 -5.21 L78.49 -3.72 L78.12 -4.46 L77.75 -4.84 L77.00 -5.21 L75.52 -5.21 L74.77 -4.84 L74.40 -4.46 L74.40 -3.72 L74.77 -3.35 L75.52 -2.98 L77.38 -2.23 L78.12 -1.86 L78.49 -1.49 M74.40 -4.09 L74.77 -3.72 L75.52 -3.35 L77.38 -2.60 L78.12 -2.23 L78.49 -1.86 L78.49 -0.74 L78.12 -0.37 L77.38 0.00 L75.89 0.00 L75.14 -0.37 L74.77 -0.74 L74.40 -1.49 L74.40 0.00 L74.77 -0.74 M81.10 -2.98 L85.56 -2.98 L85.56 -3.72 L85.19 -4.46 L84.82 -4.84 L84.07 -5.21 L82.96 -5.21 L81.84 -4.84 L81.10 -4.09 L80.72 -2.98 L80.72 -2.23 L81.10 -1.12 L81.84 -0.37 L82.96 0.00 L83.70 0.00 L84.82 -0.37 L85.56 -1.12 M85.19 -2.98 L85.19 -4.09 L84.82 -4.84 M82.96 -5.21 L82.21 -4.84 L81.47 -4.09 L81.10 -2.98 L81.10 -2.23 L81.47 -1.12 L82.21 -0.37 L82.96 0.00 M92.26 -4.09 L91.88 -3.72 L92.26 -3.35 L92.63 -3.72 L92.63 -4.09 L91.88 -4.84 L91.14 -5.21 L90.02 -5.21 L88.91 -4.84 L88.16 -4.09 L87.79 -2.98 L87.79 -2.23 L88.16 -1.12 L88.91 -0.37 L90.02 0.00 L90.77 0.00 L91.88 -0.37 L92.63 -1.12 M90.02 -5.21 L89.28 -4.84 L88.54 -4.09 L88.16 -2.98 L88.16 -2.23 L88.54 -1.12 L89.28 -0.37 L90.02 0.00 M94.84 -7.77 L97.99 -7.77 M99.39 -9.17 L99.56 -9.00 L99.39 -8.82 L99.21 -9.00 L99.21 -9.17 L99.39 -9.52 L99.56 -9.70 L100.09 -9.87 L100.79 -9.87 L101.31 -9.70 L101.49 -9.52 L101.66 -9.17 L101.66 -8.82 L101.49 -8.47 L100.96 -8.12 L100.09 -7.77 L99.74 -7.60 L99.39 -7.25 L99.21 -6.72 L99.21 -6.20 M100.79 -9.87 L101.14 -9.70 L101.31 -9.52 L101.49 -9.17 L101.49 -8.82 L101.31 -8.47 L100.79 -8.12 L100.09 -7.77 M99.21 -6.55 L99.39 -6.72 L99.74 -6.72 L100.61 -6.37 L101.14 -6.37 L101.49 -6.55 L101.66 -6.72 M99.74 -6.72 L100.61 -6.20 L101.31 -6.20 L101.49 -6.37 L101.66 -6.72 L101.66 -7.07 M105.43 -9.30 L105.43 2.60 M105.81 -9.30 L105.81 2.60 M103.20 -9.30 L105.81 -9.30 M103.20 2.60 L105.81 2.60" fill="none" stroke="#3a3a3a" stroke-width="0.52" stroke-linecap="round" stroke-linejoin="round" transform="translate(43.1 203.0) rotate(-90)"/>
<path d="M159.59 55.73 L159.59 62.71 L160.06 64.11 L160.99 65.03 L162.38 65.50 L163.31 65.50 L164.71 65.03 L165.64 64.11 L166.10 62.71 L166.10 55.73 M160.06 55.73 L160.06 62.71 L160.52 64.11 L161.45 65.03 L162.38 65.50 M158.20 55.73 L161.45 55.73 M164.71 55.73 L167.50 55.73 M170.75 55.73 L170.75 65.50 M171.22 55.73 L171.22 65.50 M169.36 55.73 L174.01 55.73 L175.40 56.20 L176.33 57.13 L176.80 58.06 L177.26 59.45 L177.26 61.78 L176.80 63.17 L176.33 64.11 L175.40 65.03 L174.01 65.50 L169.36 65.50 M174.01 55.73 L174.94 56.20 L175.87 57.13 L176.33 58.06 L176.80 59.45 L176.80 61.78 L176.33 63.17 L175.87 64.11 L174.94 65.03 L174.01 65.50 M180.98 55.73 L180.98 65.50 M181.45 55.73 L181.45 65.50 M184.24 58.52 L184.24 62.24 M179.59 55.73 L187.03 55.73 L187.03 58.52 L186.56 55.73 M181.45 60.38 L184.24 60.38 M179.59 65.50 L182.84 65.50 M189.35 55.73 L189.35 58.52 M189.35 57.59 L189.82 56.66 L190.75 55.73 L191.68 55.73 L194.00 57.13 L194.93 57.13 L195.40 56.66 L195.86 55.73 M189.82 56.66 L190.75 56.20 L191.68 56.20 L194.00 57.13 M195.86 55.73 L195.86 57.13 L195.40 58.52 L193.54 60.85 L193.07 61.78 L192.61 63.17 L192.61 65.50 M195.40 58.52 L193.07 60.85 L192.61 61.78 L192.14 63.17 L192.14 65.50 M199.58 55.73 L198.65 60.38 M198.65 60.38 L199.58 59.45 L200.98 58.99 L202.38 58.99 L203.77 59.45 L204.70 60.38 L205.16 61.78 L205.16 62.71 L204.70 64.11 L203.77 65.03 L202.38 65.50 L200.98 65.50 L199.58 65.03 L199.12 64.57 L198.65 63.64 L198.65 63.17 L199.12 62.71 L199.58 63.17 L199.12 63.64 M202.38 58.99 L203.30 59.45 L204.23 60.38 L204.70 61.78 L204.70 62.71 L204.23 64.11 L203.30 65.03 L202.38 65.50 M199.58 55.73 L204.23 55.73 M199.58 56.20 L201.91 56.20 L204.23 55.73 M208.88 55.73 L207.95 60.38 M207.95 60.38 L208.88 59.45 L210.28 58.99 L211.67 58.99 L213.07 59.45 L214.00 60.38 L214.46 61.78 L214.46 62.71 L214.00 64.11 L213.07 65.03 L211.67 65.50 L210.28 65.50 L208.88 65.03 L208.42 64.57 L207.95 63.64 L207.95 63.17 L208.42 62.71 L208.88 63.17 L208.42 63.64 M211.67 58.99 L212.60 59.45 L213.53 60.38 L214.00 61.78 L214.00 62.71 L213.53 64.11 L212.60 65.03 L211.67 65.50 M208.88 55.73 L213.53 55.73 M208.88 56.20 L211.21 56.20 L213.53 55.73 M223.30 58.99 L222.83 60.38 L221.90 61.31 L220.51 61.78 L220.04 61.78 L218.65 61.31 L217.72 60.38 L217.25 58.99 L217.25 58.52 L217.72 57.13 L218.65 56.20 L220.04 55.73 L220.97 55.73 L222.37 56.20 L223.30 57.13 L223.76 58.52 L223.76 61.31 L223.30 63.17 L222.83 64.11 L221.90 65.03 L220.51 65.50 L219.11 65.50 L218.19 65.03 L217.72 64.11 L217.72 63.64 L218.19 63.17 L218.65 63.64 L218.19 64.11 M220.04 61.78 L219.11 61.31 L218.19 60.38 L217.72 58.99 L217.72 58.52 L218.19 57.13 L219.11 56.20 L220.04 55.73 M220.97 55.73 L221.90 56.20 L222.83 57.13 L223.30 58.52 L223.30 61.31 L222.83 63.17 L222.37 64.11 L221.44 65.03 L220.51 65.50" fill="none" stroke="#3a3a3a" stroke-width="0.62" stroke-linecap="round" stroke-linejoin="round"/>
<circle cx="269" cy="54.9" r="2.95" fill="#000"/>
<circle cx="269" cy="64.3" r="2.95" fill="#4b0082"/>
<circle cx="269" cy="73.5" r="2.95" fill="#ff2200"/>
<path d="M281.46 49.19 L281.46 57.00 M281.83 49.19 L281.83 57.00 M280.34 49.19 L284.81 49.19 L285.92 49.56 L286.30 49.93 L286.67 50.68 L286.67 51.42 L286.30 52.16 L285.92 52.54 L284.81 52.91 M284.81 49.19 L285.55 49.56 L285.92 49.93 L286.30 50.68 L286.30 51.42 L285.92 52.16 L285.55 52.54 L284.81 52.91 M281.83 52.91 L284.81 52.91 L285.92 53.28 L286.30 53.65 L286.67 54.40 L286.67 55.51 L286.30 56.26 L285.92 56.63 L284.81 57.00 L280.34 57.00 M284.81 52.91 L285.55 53.28 L285.92 53.65 L286.30 54.40 L286.30 55.51 L285.92 56.26 L285.55 56.63 L284.81 57.00 M289.86 54.16 L289.17 54.39 L288.71 55.08 L288.48 56.23 L288.48 56.92 L288.71 58.08 L289.17 58.77 L289.86 59.00 L290.32 59.00 L291.01 58.77 L291.47 58.08 L291.70 56.92 L291.70 56.23 L291.47 55.08 L291.01 54.39 L290.32 54.16 L289.86 54.16 M289.86 54.16 L289.40 54.39 L289.17 54.62 L288.94 55.08 L288.71 56.23 L288.71 56.92 L288.94 58.08 L289.17 58.54 L289.40 58.77 L289.86 59.00 M290.32 59.00 L290.78 58.77 L291.01 58.54 L291.24 58.08 L291.47 56.92 L291.47 56.23 L291.24 55.08 L291.01 54.62 L290.78 54.39 L290.32 54.16" fill="none" stroke="#3a3a3a" stroke-width="0.52" stroke-linecap="round" stroke-linejoin="round" />
<path d="M284.34 61.44 L280.60 66.20 M284.68 61.44 L280.94 66.20 M280.94 61.44 L280.60 62.80 L280.60 61.44 L284.68 61.44 M280.60 66.20 L284.68 66.20 L284.68 64.84 L284.34 66.20" fill="none" stroke="#5a2a9a" stroke-width="0.5" stroke-linecap="round" stroke-linejoin="round"/>
<path d="M281.34 68.55 L280.99 68.90 L281.34 69.25 L281.68 68.90 L281.34 68.55 M281.34 70.97 L281.34 75.80 M281.68 70.97 L281.68 75.80 M280.30 70.97 L281.68 70.97 M280.30 75.80 L282.72 75.80" fill="none" stroke="#ff3a20" stroke-width="0.5" stroke-linecap="round" stroke-linejoin="round"/>
<path d="M276.84 158.82 L276.84 164.70 M277.12 158.82 L278.80 163.86 M276.84 158.82 L278.80 164.70 M280.76 158.82 L278.80 164.70 M280.76 158.82 L280.76 164.70 M281.04 158.82 L281.04 164.70 M276.00 158.82 L277.12 158.82 M280.76 158.82 L281.88 158.82 M276.00 164.70 L277.68 164.70 M279.92 164.70 L281.88 164.70 M283.56 158.82 L284.68 164.70 M283.84 158.82 L284.68 163.30 M285.80 158.82 L284.68 164.70 M285.80 158.82 L286.92 164.70 M286.08 158.82 L286.92 163.30 M288.04 158.82 L286.92 164.70 M282.72 158.82 L284.68 158.82 M287.20 158.82 L288.88 158.82" fill="none" stroke="#5a84fc" stroke-width="0.7" stroke-linecap="round" stroke-linejoin="round"/>
<path d="M254.04 177.32 L254.04 183.20 M254.32 177.32 L257.68 182.64 M254.32 177.88 L257.68 183.20 M257.68 177.32 L257.68 183.20 M253.20 177.32 L254.32 177.32 M256.84 177.32 L258.52 177.32 M253.20 183.20 L254.88 183.20 M263.84 178.16 L264.12 179.00 L264.12 177.32 L263.84 178.16 L263.28 177.60 L262.44 177.32 L261.88 177.32 L261.04 177.60 L260.48 178.16 L260.20 178.72 L259.92 179.56 L259.92 180.96 L260.20 181.80 L260.48 182.36 L261.04 182.92 L261.88 183.20 L262.44 183.20 L263.28 182.92 L263.84 182.36 M261.88 177.32 L261.32 177.60 L260.76 178.16 L260.48 178.72 L260.20 179.56 L260.20 180.96 L260.48 181.80 L260.76 182.36 L261.32 182.92 L261.88 183.20 M263.84 180.96 L263.84 183.20 M264.12 180.96 L264.12 183.20 M263.00 180.96 L264.96 180.96 M270.28 178.16 L270.56 179.00 L270.56 177.32 L270.28 178.16 L269.72 177.60 L268.88 177.32 L268.32 177.32 L267.48 177.60 L266.92 178.16 L266.64 178.72 L266.36 179.56 L266.36 180.96 L266.64 181.80 L266.92 182.36 L267.48 182.92 L268.32 183.20 L268.88 183.20 L269.72 182.92 L270.28 182.36 L270.56 181.80 M268.32 177.32 L267.76 177.60 L267.20 178.16 L266.92 178.72 L266.64 179.56 L266.64 180.96 L266.92 181.80 L267.20 182.36 L267.76 182.92 L268.32 183.20 M272.24 177.32 L272.24 179.00 M272.24 178.44 L272.52 177.88 L273.08 177.32 L273.64 177.32 L275.04 178.16 L275.60 178.16 L275.88 177.88 L276.16 177.32 M272.52 177.88 L273.08 177.60 L273.64 177.60 L275.04 178.16 M276.16 177.32 L276.16 178.16 L275.88 179.00 L274.76 180.40 L274.48 180.96 L274.20 181.80 L274.20 183.20 M275.88 179.00 L274.48 180.40 L274.20 180.96 L273.92 181.80 L273.92 183.20 M281.20 178.16 L280.92 178.44 L281.20 178.72 L281.48 178.44 L281.48 178.16 L281.20 177.60 L280.64 177.32 L279.80 177.32 L278.96 177.60 L278.40 178.16 L278.12 178.72 L277.84 179.84 L277.84 181.52 L278.12 182.36 L278.68 182.92 L279.52 183.20 L280.08 183.20 L280.92 182.92 L281.48 182.36 L281.76 181.52 L281.76 181.24 L281.48 180.40 L280.92 179.84 L280.08 179.56 L279.80 179.56 L278.96 179.84 L278.40 180.40 L278.12 181.24 M279.80 177.32 L279.24 177.60 L278.68 178.16 L278.40 178.72 L278.12 179.84 L278.12 181.52 L278.40 182.36 L278.96 182.92 L279.52 183.20 M280.08 183.20 L280.64 182.92 L281.20 182.36 L281.48 181.52 L281.48 181.24 L281.20 180.40 L280.64 179.84 L280.08 179.56 M283.44 177.32 L283.44 179.00 M283.44 178.44 L283.72 177.88 L284.28 177.32 L284.84 177.32 L286.24 178.16 L286.80 178.16 L287.08 177.88 L287.36 177.32 M283.72 177.88 L284.28 177.60 L284.84 177.60 L286.24 178.16 M287.36 177.32 L287.36 178.16 L287.08 179.00 L285.96 180.40 L285.68 180.96 L285.40 181.80 L285.40 183.20 M287.08 179.00 L285.68 180.40 L285.40 180.96 L285.12 181.80 L285.12 183.20 M289.32 178.44 L289.60 178.72 L289.32 179.00 L289.04 178.72 L289.04 178.44 L289.32 177.88 L289.60 177.60 L290.44 177.32 L291.56 177.32 L292.40 177.60 L292.68 178.16 L292.68 179.00 L292.40 179.56 L291.56 179.84 L290.72 179.84 M291.56 177.32 L292.12 177.60 L292.40 178.16 L292.40 179.00 L292.12 179.56 L291.56 179.84 M291.56 179.84 L292.12 180.12 L292.68 180.68 L292.96 181.24 L292.96 182.08 L292.68 182.64 L292.40 182.92 L291.56 183.20 L290.44 183.20 L289.60 182.92 L289.32 182.64 L289.04 182.08 L289.04 181.80 L289.32 181.52 L289.60 181.80 L289.32 182.08 M292.40 180.40 L292.68 181.24 L292.68 182.08 L292.40 182.64 L292.12 182.92 L291.56 183.20" fill="none" stroke="#5a84fc" stroke-width="0.7" stroke-linecap="round" stroke-linejoin="round"/>
<path d="M182.34 239.92 L182.34 245.80 M182.62 239.92 L185.98 245.24 M182.62 240.48 L185.98 245.80 M185.98 239.92 L185.98 245.80 M181.50 239.92 L182.62 239.92 M185.14 239.92 L186.82 239.92 M181.50 245.80 L183.18 245.80 M192.14 240.76 L192.42 241.60 L192.42 239.92 L192.14 240.76 L191.58 240.20 L190.74 239.92 L190.18 239.92 L189.34 240.20 L188.78 240.76 L188.50 241.32 L188.22 242.16 L188.22 243.56 L188.50 244.40 L188.78 244.96 L189.34 245.52 L190.18 245.80 L190.74 245.80 L191.58 245.52 L192.14 244.96 M190.18 239.92 L189.62 240.20 L189.06 240.76 L188.78 241.32 L188.50 242.16 L188.50 243.56 L188.78 244.40 L189.06 244.96 L189.62 245.52 L190.18 245.80 M192.14 243.56 L192.14 245.80 M192.42 243.56 L192.42 245.80 M191.30 243.56 L193.26 243.56 M198.58 240.76 L198.86 241.60 L198.86 239.92 L198.58 240.76 L198.02 240.20 L197.18 239.92 L196.62 239.92 L195.78 240.20 L195.22 240.76 L194.94 241.32 L194.66 242.16 L194.66 243.56 L194.94 244.40 L195.22 244.96 L195.78 245.52 L196.62 245.80 L197.18 245.80 L198.02 245.52 L198.58 244.96 L198.86 244.40 M196.62 239.92 L196.06 240.20 L195.50 240.76 L195.22 241.32 L194.94 242.16 L194.94 243.56 L195.22 244.40 L195.50 244.96 L196.06 245.52 L196.62 245.80 M200.82 241.04 L201.10 241.32 L200.82 241.60 L200.54 241.32 L200.54 241.04 L200.82 240.48 L201.10 240.20 L201.94 239.92 L203.06 239.92 L203.90 240.20 L204.18 240.48 L204.46 241.04 L204.46 241.60 L204.18 242.16 L203.34 242.72 L201.94 243.28 L201.38 243.56 L200.82 244.12 L200.54 244.96 L200.54 245.80 M203.06 239.92 L203.62 240.20 L203.90 240.48 L204.18 241.04 L204.18 241.60 L203.90 242.16 L203.06 242.72 L201.94 243.28 M200.54 245.24 L200.82 244.96 L201.38 244.96 L202.78 245.52 L203.62 245.52 L204.18 245.24 L204.46 244.96 M201.38 244.96 L202.78 245.80 L203.90 245.80 L204.18 245.52 L204.46 244.96 L204.46 244.40 M207.82 239.92 L206.98 240.20 L206.42 241.04 L206.14 242.44 L206.14 243.28 L206.42 244.68 L206.98 245.52 L207.82 245.80 L208.38 245.80 L209.22 245.52 L209.78 244.68 L210.06 243.28 L210.06 242.44 L209.78 241.04 L209.22 240.20 L208.38 239.92 L207.82 239.92 M207.82 239.92 L207.26 240.20 L206.98 240.48 L206.70 241.04 L206.42 242.44 L206.42 243.28 L206.70 244.68 L206.98 245.24 L207.26 245.52 L207.82 245.80 M208.38 245.80 L208.94 245.52 L209.22 245.24 L209.50 244.68 L209.78 243.28 L209.78 242.44 L209.50 241.04 L209.22 240.48 L208.94 240.20 L208.38 239.92 M212.30 239.92 L211.74 242.72 M211.74 242.72 L212.30 242.16 L213.14 241.88 L213.98 241.88 L214.82 242.16 L215.38 242.72 L215.66 243.56 L215.66 244.12 L215.38 244.96 L214.82 245.52 L213.98 245.80 L213.14 245.80 L212.30 245.52 L212.02 245.24 L211.74 244.68 L211.74 244.40 L212.02 244.12 L212.30 244.40 L212.02 244.68 M213.98 241.88 L214.54 242.16 L215.10 242.72 L215.38 243.56 L215.38 244.12 L215.10 244.96 L214.54 245.52 L213.98 245.80 M212.30 239.92 L215.10 239.92 M212.30 240.20 L213.70 240.20 L215.10 239.92" fill="none" stroke="#5a84fc" stroke-width="0.7" stroke-linecap="round" stroke-linejoin="round"/>
</g>
</svg>
</body></html>
